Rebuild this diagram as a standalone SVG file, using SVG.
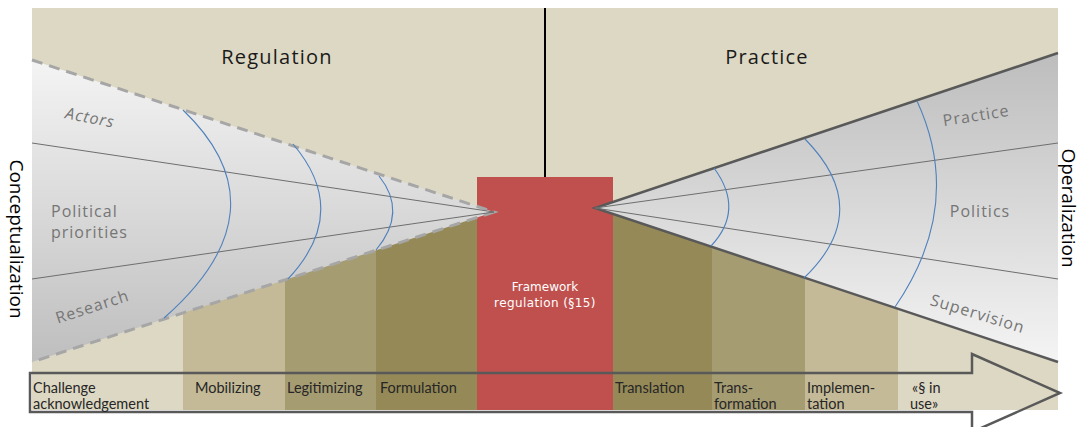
<svg xmlns="http://www.w3.org/2000/svg" width="1085" height="427" viewBox="0 0 1085 427">
<defs>
<linearGradient id="gl" x1="0" y1="0" x2="0" y2="1"><stop offset="0" stop-color="#F4F4F4"/><stop offset="1" stop-color="#BEBEBE"/></linearGradient>
<linearGradient id="gr" x1="0" y1="0" x2="0" y2="1"><stop offset="0" stop-color="#BDBDBD"/><stop offset="1" stop-color="#F4F4F4"/></linearGradient>
<style>
.arc{fill:none;stroke:#4F81BD;stroke-width:1.1}
.inner{fill:none;stroke:#6E6E6E;stroke-width:1}
.head{font-family:"Open Sans",sans-serif;font-size:20px;letter-spacing:1.2px;fill:#1A1A1A}
.side{font-family:"Open Sans",sans-serif;font-size:19px;fill:#000}
.cl{font-family:"Open Sans",sans-serif;font-size:16px;letter-spacing:1px;fill:#757575}
.stage{font-family:Lato,"Open Sans",sans-serif;font-size:14.5px;fill:#262626}
.red{font-family:"DejaVu Sans",sans-serif;font-size:12px;fill:#fff}
</style>
</defs>
<g id="background">
<rect x="32" y="8" width="1026" height="402" fill="#DDD8C3"/>
<line x1="545" y1="8" x2="545" y2="178" stroke="#000" stroke-width="2"/>
</g>
<g id="columns">
<polygon points="183,305 285,272 285,410 183,410" fill="#C4BA97"/>
<polygon points="285,272 376,243 376,410 285,410" fill="#A69C72"/>
<polygon points="376,243 477,210 477,410 376,410" fill="#958A57"/>
<polygon points="613,208 712,241 712,410 613,410" fill="#958A57"/>
<polygon points="712,241 805,272 805,410 712,410" fill="#A69C72"/>
<polygon points="805,272 898,303 898,410 805,410" fill="#C4BA97"/>
</g>
<g id="framework">
<rect x="477" y="177" width="136" height="233" fill="#C0504D"/>
<text class="red" x="545" y="291" text-anchor="middle">Framework</text>
<text class="red" x="545" y="307" text-anchor="middle" letter-spacing="0.4">regulation (§15)</text>
</g>
<g id="cone-left">
<polygon points="32,60 494,212 32,362" fill="url(#gl)"/>
<polyline points="32,60 494,212 32,362" fill="none" stroke="#A6A6A6" stroke-width="3" stroke-dasharray="11,7"/>
<line class="inner" x1="32" y1="143" x2="494" y2="212"/>
<line class="inner" x1="32" y1="279" x2="494" y2="212"/>
<path class="arc" d="M183,110 Q287,210 164,318"/>
<path class="arc" d="M293,144 Q351,212 288,279"/>
<path class="arc" d="M379,176 Q408,212 376,250"/>
<text class="cl" font-style="italic" transform="translate(89,123) rotate(11)" text-anchor="middle">Actors</text>
<text class="cl" x="51" y="217">Political</text>
<text class="cl" x="51" y="238">priorities</text>
<text class="cl" transform="translate(94,312) rotate(-18)" text-anchor="middle">Research</text>
</g>
<g id="cone-right">
<polygon points="1058,53 595,208 1058,362" fill="url(#gr)"/>
<polyline points="1058,53 595,208 1058,362" fill="none" stroke="#595959" stroke-width="2.5"/>
<line class="inner" x1="595" y1="208" x2="1058" y2="143"/>
<line class="inner" x1="595" y1="208" x2="1058" y2="279"/>
<path class="arc" d="M714,168 Q745,210 711,246"/>
<path class="arc" d="M805,139 Q875,210 804,278"/>
<path class="arc" d="M917,101 Q965,205 895,307"/>
<text class="cl" transform="translate(977,121) rotate(-9)" text-anchor="middle">Practice</text>
<text class="cl" x="980" y="217" text-anchor="middle">Politics</text>
<text class="cl" transform="translate(976,319) rotate(17)" text-anchor="middle">Supervision</text>
</g>
<g id="connectors">
<polygon points="30,373 972,373 972,354 1060,393 972,432 972,412 30,412" fill="none" stroke="#595959" stroke-width="2.5" stroke-linejoin="miter"/>
</g>
<g id="stages">
<text class="stage" x="33" y="393">Challenge</text>
<text class="stage" x="33" y="409">acknowledgement</text>
<text class="stage" x="195" y="393">Mobilizing</text>
<text class="stage" x="287" y="393">Legitimizing</text>
<text class="stage" x="380" y="393">Formulation</text>
<text class="stage" x="615" y="393">Translation</text>
<text class="stage" x="714" y="393">Trans-</text>
<text class="stage" x="714" y="409">formation</text>
<text class="stage" x="807" y="393">Implemen-</text>
<text class="stage" x="807" y="409">tation</text>
<text class="stage" x="912" y="393">«§ in</text>
<text class="stage" x="910" y="409">use»</text>
</g>
<g id="titles">
<text class="head" x="277" y="64" text-anchor="middle">Regulation</text>
<text class="head" x="767" y="64" text-anchor="middle">Practice</text>
<text class="side" transform="translate(10,239) rotate(90)" text-anchor="middle">Conceptualization</text>
<text class="side" transform="translate(1062,208) rotate(90)" text-anchor="middle">Operalization</text>
</g>
</svg>
